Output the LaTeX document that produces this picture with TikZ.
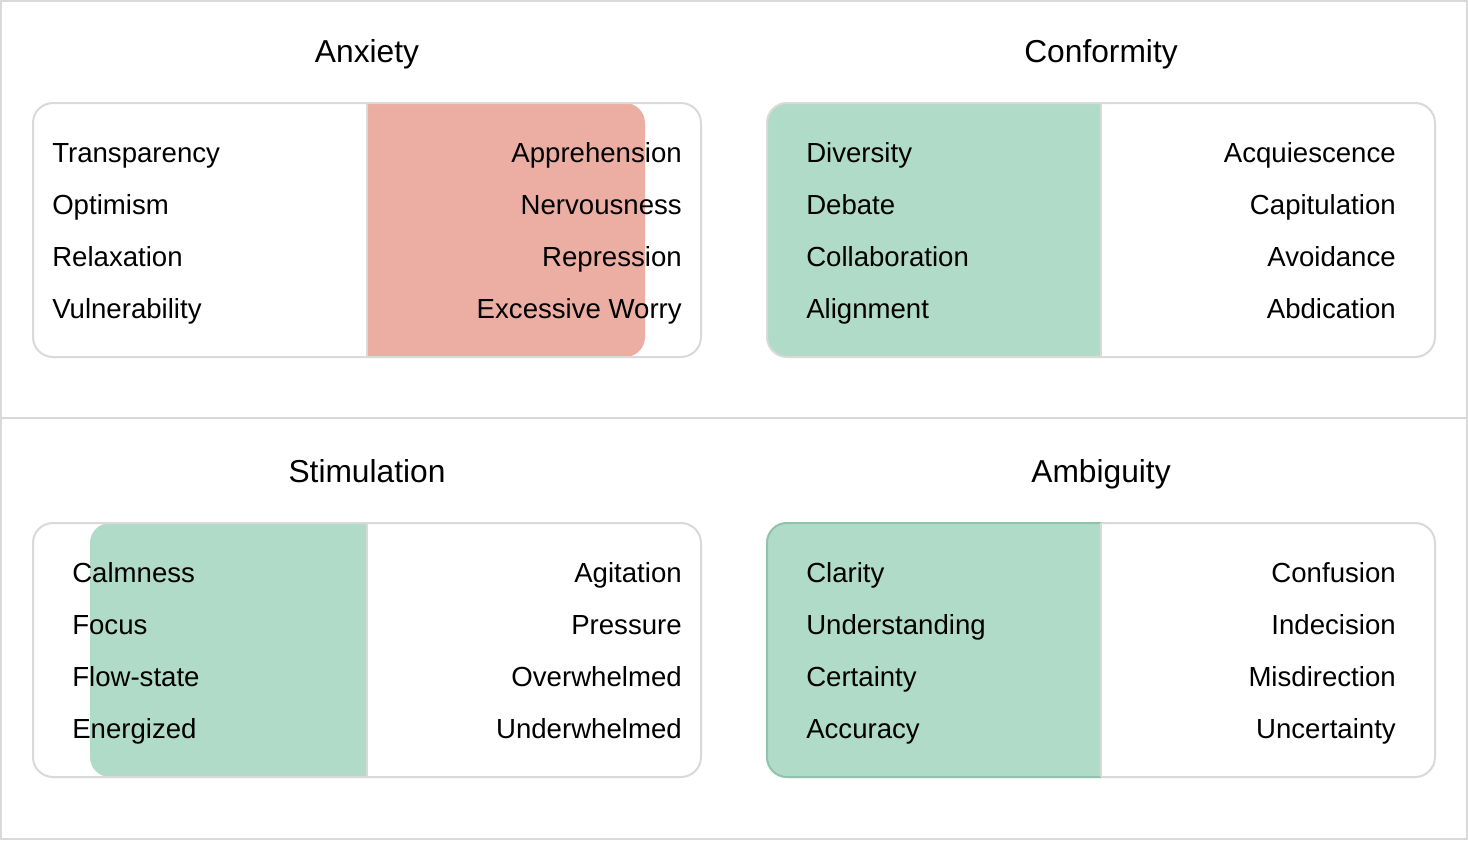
\documentclass[tikz,border=0pt]{standalone}
\usepackage{fontspec}
\setmainfont{Liberation Sans}
\usetikzlibrary{positioning}
\definecolor{linegray}{HTML}{D9D9D9}
\definecolor{warmred}{HTML}{ECADA3}
\definecolor{calmgreen}{HTML}{AFDBC8}
\definecolor{edgegreen}{HTML}{8FC4AC}

\begin{document}
\begin{tikzpicture}[
    x=0.75pt, y=-0.75pt,
    frame/.style={draw=linegray, line width=1.5pt},
    panel/.style={draw=linegray, line width=1.5pt, rounded corners=15pt},
    title/.style={font=\fontsize{23.8}{28}\selectfont, anchor=base, inner sep=0pt},
    lword/.style={font=\fontsize{20.7}{24}\selectfont, anchor=base west, inner sep=0pt},
    rword/.style={font=\fontsize{20.7}{24}\selectfont, anchor=base east, inner sep=0pt}
]
\useasboundingbox (0,0) rectangle (1468,840);

% Outer frame and divider
\draw[frame] (1,1) rectangle (1467,839);
\draw[frame] (0,418) -- (1468,418);

% Highlight fills
\begin{scope}
  \clip (367,103) rectangle (701,357);
  \fill[warmred, rounded corners=15pt] (300,103) rectangle (645,357);
\end{scope}
\begin{scope}
  \clip[rounded corners=15pt] (767,103) rectangle (1435,357);
  \fill[calmgreen] (767,103) rectangle (1101,357);
\end{scope}
\begin{scope}
  \clip (33,523) rectangle (367,777);
  \fill[calmgreen, rounded corners=15pt] (90,523) rectangle (420,777);
\end{scope}
\begin{scope}
  \clip[rounded corners=15pt] (767,523) rectangle (1435,777);
  \fill[calmgreen] (767,523) rectangle (1101,777);
\end{scope}

% Panels
\draw[panel] (33,103) rectangle (701,357);
\draw[panel] (767,103) rectangle (1435,357);
\draw[panel] (33,523) rectangle (701,777);
\draw[panel] (767,523) rectangle (1435,777);
\begin{scope}
  \clip (740,500) rectangle (1101,800);
  \draw[panel, draw=edgegreen] (767,523) rectangle (1435,777);
\end{scope}

% Middle splits
\draw[frame] (367,103) -- (367,357);
\draw[frame] (1101,103) -- (1101,357);
\draw[frame] (367,523) -- (367,777);
\draw[frame] (1101,523) -- (1101,777);

% Titles
\node[title] (anxiety) at (367,62) {Anxiety};
\node[title] (conformity) at (1101,62) {Conformity};
\node[title] (stimulation) at (367,482) {Stimulation};
\node[title] (ambiguity) at (1101,482) {Ambiguity};

% Anxiety
\node[lword] (transparency) at (52,162) {Transparency};
\node[lword] (optimism) at (52,214) {Optimism};
\node[lword] (relaxation) at (52,266) {Relaxation};
\node[lword] (vulnerability) at (52,318) {Vulnerability};
\node[rword] (apprehension) at (682,162) {Apprehension};
\node[rword] (nervousness) at (682,214) {Nervousness};
\node[rword] (repression) at (682,266) {Repression};
\node[rword] (worry) at (682,318) {Excessive Worry};

% Conformity
\node[lword] (diversity) at (806,162) {Diversity};
\node[lword] (debate) at (806,214) {Debate};
\node[lword] (collaboration) at (806,266) {Collaboration};
\node[lword] (alignment) at (806,318) {Alignment};
\node[rword] (acquiescence) at (1396,162) {Acquiescence};
\node[rword] (capitulation) at (1396,214) {Capitulation};
\node[rword] (avoidance) at (1396,266) {Avoidance};
\node[rword] (abdication) at (1396,318) {Abdication};

% Stimulation
\node[lword] (calmness) at (72,582) {Calmness};
\node[lword] (focus) at (72,634) {Focus};
\node[lword] (flowstate) at (72,686) {Flow-state};
\node[lword] (energized) at (72,738) {Energized};
\node[rword] (agitation) at (682,582) {Agitation};
\node[rword] (pressure) at (682,634) {Pressure};
\node[rword] (overwhelmed) at (682,686) {Overwhelmed};
\node[rword] (underwhelmed) at (682,738) {Underwhelmed};

% Ambiguity
\node[lword] (clarity) at (806,582) {Clarity};
\node[lword] (understanding) at (806,634) {Understanding};
\node[lword] (certainty) at (806,686) {Certainty};
\node[lword] (accuracy) at (806,738) {Accuracy};
\node[rword] (confusion) at (1396,582) {Confusion};
\node[rword] (indecision) at (1396,634) {Indecision};
\node[rword] (misdirection) at (1396,686) {Misdirection};
\node[rword] (uncertainty) at (1396,738) {Uncertainty};

\end{tikzpicture}
\end{document}
